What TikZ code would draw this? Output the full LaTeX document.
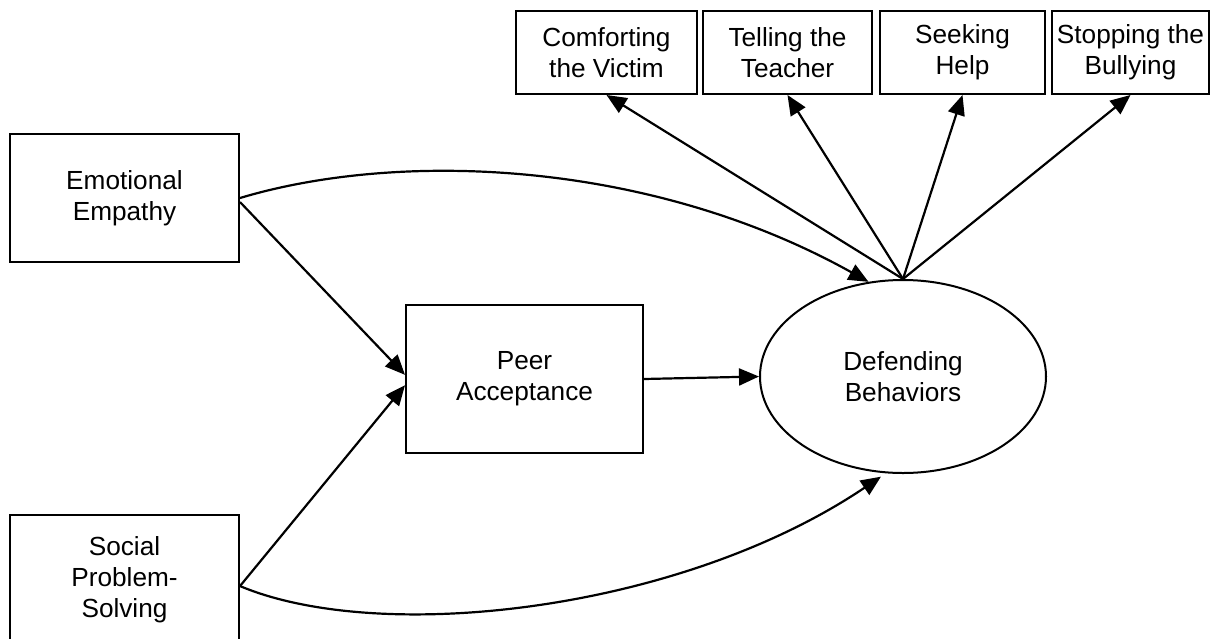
\documentclass[tikz,border=0pt]{standalone}
\usepackage{fontspec}
\setmainfont{Liberation Sans}
\usetikzlibrary{arrows.meta,shapes.geometric}

\tikzset{
  box/.style={draw, line width=1pt, rectangle, align=center, inner sep=0pt},
  latent/.style={draw, line width=1pt, ellipse, align=center, inner sep=0pt},
  path/.style={line width=1.1pt, -{Triangle[length=10pt,width=8.5pt]}},
}

\begin{document}
\begin{tikzpicture}[x=0.5pt,y=0.5pt,yscale=-1,xscale=1,
  every node/.append style={font=\fontsize{13.1}{15.5}\selectfont}]
        \useasboundingbox (0,0) rectangle (1211,638);

        % Outcome boxes
        \node [box, minimum width=90.5pt, minimum height=41.5pt] (comfort) at (606.5,52.5) {Comforting\\the Victim};
        \node [box, minimum width=84.5pt, minimum height=41.5pt] (tell) at (787.5,52.5) {Telling the\\Teacher};
        \node [box, minimum width=82.5pt, minimum height=41.5pt] (seek) at (962.5,52.5) {Seeking\\Help};
        \node [box, minimum width=78.5pt, minimum height=41.5pt] (stop) at (1130.5,52.5) {Stopping the\\Bullying};

        % Predictors
        \node [box, minimum width=114.5pt, minimum height=64pt] (empathy) at (124.5,198) {Emotional\\Empathy};
        \node [box, minimum width=114.5pt, minimum height=65pt] (solving) at (124.5,580) {Social\\Problem-\\Solving};

        % Mediator
        \node [box, minimum width=118.5pt, minimum height=74pt] (peer) at (524.5,379) {Peer\\Acceptance};

        % Latent
        \node [latent, minimum width=143pt, minimum height=96.5pt] (defend) at (903,376.5) {Defending\\Behaviors};

        % Straight paths
        \draw [path] (empathy.-2.5) -- (peer.178);
        \draw [path] (solving.-3.5) -- (peer.-177);
        \draw [path] (peer.east) -- (defend.west);

        % Direct paths
        \draw [path] (empathy.east) .. controls (400,150) and (650,160) .. (defend.110);
        \draw [path, shorten >=3pt] (solving.-3.5) .. controls (380,645) and (680,612) .. (defend.-100);

        % Indicators
        \draw [path] (defend.north) -- (comfort.south);
        \draw [path] (defend.north) -- (tell.south);
        \draw [path] (defend.north) -- (seek.south);
        \draw [path] (defend.north) -- (stop.south);

\end{tikzpicture}
\end{document}
